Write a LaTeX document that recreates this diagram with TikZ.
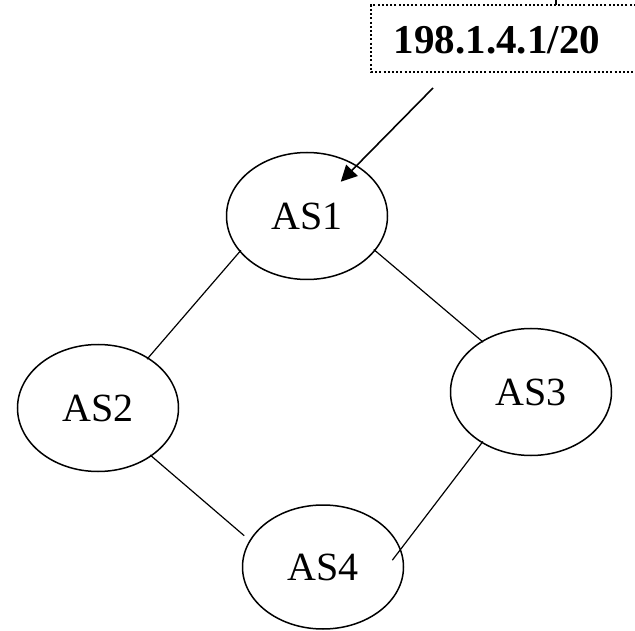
\documentclass[tikz,border=0pt]{standalone}
\usepackage{fontspec}
\setmainfont{Liberation Serif}
\usetikzlibrary{shapes.geometric}
\usetikzlibrary{arrows.meta}
\tikzstyle{link} = [line width=1.2pt, shorten <=-2pt, shorten >=-2pt]
\tikzstyle{route} = [line width=1.6pt, -{Triangle[length=16pt,width=16pt]}]
\tikzstyle{frame} = [line width=2pt, dash pattern=on 2pt off 2.2pt]

\begin{document}
\begin{tikzpicture}[
  x=1pt, y=-1pt,
  every node/.style={ellipse, draw, line width=1.5pt, inner sep=0pt,
    minimum width=161pt, minimum height=127pt,
    font=\fontsize{40}{44}\selectfont},
]
\useasboundingbox (0,0) rectangle (635,631);
% autonomous systems
\node (as1) at (307,216) {AS1};
\node (as2) at (98,408) {AS2};
\node (as3) at (531,392) {AS3};
\node[minimum height=124pt] (as4) at (323,567) {AS4};
% peering links
\draw[link] (as1.208) -- (as2.45);
\draw[link] (as1.333) -- (as3.134);
\draw[link, shorten >=7pt] (as2.318) -- (as4.160);
\draw[link, shorten >=-14pt] (as3.226) -- (as4.13);
% announced prefix
\node[draw=none, rectangle, minimum width=0pt, minimum height=0pt,
  font=\fontsize{41}{45}\selectfont\bfseries]
  (prefix) at (497,40) {198.1.4.1/20};
\draw[frame] (640,5) -- (371,5) -- (371,72) -- (640,72);
\draw[line width=2pt] (556,0) -- (556,5);
\coordinate (tail) at (433,88);
\draw[route, shorten >=-23pt] (tail) -- (as1);
\end{tikzpicture}
\end{document}
